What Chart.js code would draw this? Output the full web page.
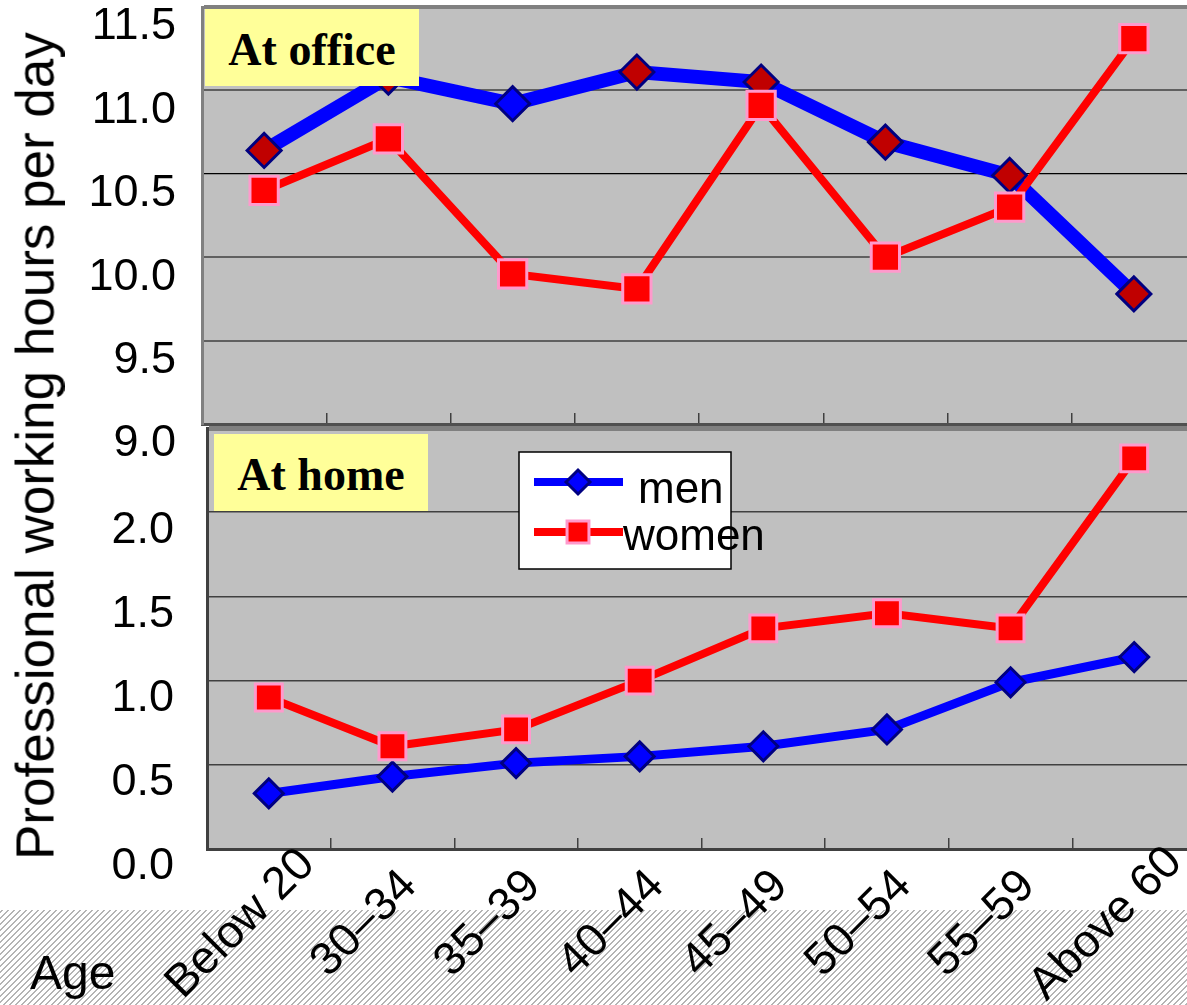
<!DOCTYPE html>
<html>
<head>
<meta charset="utf-8">
<script src="https://cdn.jsdelivr.net/npm/chart.js@4/dist/chart.umd.min.js"></script>
<style>
html,body{margin:0;padding:0;width:1187px;height:1005px;overflow:hidden;background:#fff;}
#wrap{position:relative;width:1187px;height:1005px;overflow:hidden;}
canvas{position:absolute;left:0;}
.panel{position:absolute;font-family:"Liberation Serif","Times New Roman",serif;font-weight:bold;font-size:46px;background:#FFFF99;width:214px;height:77px;line-height:81px;text-align:center;color:#000;white-space:nowrap;overflow:visible;}
#ytitle{position:absolute;left:35px;top:446px;transform:translate(-50%,-50%) rotate(-90deg);font-family:"Liberation Sans",Arial,sans-serif;font-size:53px;line-height:53px;white-space:nowrap;color:#000;}
#age{position:absolute;left:30px;top:949px;font-family:"Liberation Sans",Arial,sans-serif;font-size:48px;line-height:48px;color:#000;}
</style>
</head>
<body>
<div id="wrap">
  <canvas id="home" width="1200" height="585" style="top:420px;width:1200px;height:585px"></canvas>
  <canvas id="office" width="1200" height="470" style="top:0;width:1200px;height:470px"></canvas>
  <div class="panel" style="left:205px;top:9px">At office</div>
  <div class="panel" style="left:214px;top:434px">At home</div>
  <div id="ytitle">Professional working hours per day</div>
  <div id="age">Age</div>
</div>
<script>
// ---- data ----
const ageGroups   = ['Below 20', '30–34', '35–39', '40–44', '45–49', '50–54', '55–59', 'Above 60'];
const seriesNames = ['men', 'women'];
const officeMen   = [10.64, 11.08, 10.92, 11.11, 11.05, 10.69, 10.49, 9.78];
const officeWomen = [10.40, 10.71, 9.90, 9.81, 10.91, 10.00, 10.30, 11.31];
const homeMen     = [0.33, 0.43, 0.51, 0.55, 0.61, 0.71, 0.99, 1.14];
const homeWomen   = [0.90, 0.61, 0.71, 1.00, 1.31, 1.40, 1.31, 2.32];
const officeAxis  = {min: 9.0, max: 11.5, step: 0.5};
const homeAxis    = {min: 0.0, max: 2.5, step: 0.5};
const homeHiddenTick = 2.5;

const SANS = '"Liberation Sans", Arial, sans-serif';

function noPad(s) { s.paddingTop = 0; s.paddingBottom = 0; s.paddingLeft = 0; s.paddingRight = 0; }

const plotBg = {
  id: 'plotBg',
  beforeDraw(chart) {
    const a = chart.chartArea, ctx = chart.ctx;
    ctx.save();
    ctx.fillStyle = '#C0C0C0';
    ctx.fillRect(a.left, a.top, a.right - a.left, a.bottom - a.top);
    ctx.restore();
  }
};

const hatch = {
  id: 'hatch',
  beforeDraw(chart) {
    const ctx = chart.ctx;
    const p = document.createElement('canvas');
    p.width = 6; p.height = 6;
    const pc = p.getContext('2d');
    pc.fillStyle = '#ffffff'; pc.fillRect(0, 0, 6, 6);
    pc.fillStyle = '#b4b4b4';
    for (let i = 0; i < 6; i++) { pc.fillRect((5 - i + 6) % 6, i, 2, 1); if ((5 - i) === 5) pc.fillRect(0, i, 1, 1); }
    ctx.save();
    ctx.fillStyle = ctx.createPattern(p, 'repeat');
    ctx.fillRect(0, 490, chart.width, chart.height - 490);
    ctx.restore();
  }
};

const xLabels = {
  id: 'xLabels',
  afterDraw(chart) {
    const ctx = chart.ctx, xs = chart.scales.x;
    ctx.save();
    ctx.font = '46px ' + SANS;
    ctx.fillStyle = '#000';
    ctx.textAlign = 'center';
    ctx.textBaseline = 'middle';
    chart.data.labels.forEach((lab, i) => {
      const x = xs.getPixelForValue(i) - 28;
      ctx.save();
      ctx.translate(x, 504);
      ctx.rotate(-Math.PI / 4);
      ctx.fillText(lab, 0, 0);
      ctx.restore();
    });
    ctx.restore();
  }
};

const boxLegend = {
  id: 'boxLegend',
  afterDraw(chart) {
    const ctx = chart.ctx;
    ctx.save();
    ctx.fillStyle = '#fff';
    ctx.strokeStyle = '#000';
    ctx.lineWidth = 1.5;
    ctx.fillRect(519, 32, 212, 117);
    ctx.strokeRect(519, 32, 212, 117);
    const rows = [{y: 62, tx: 638, ty: 83, r: 12}, {y: 112, tx: 623, ty: 130, r: 15.5}];
    chart.data.datasets.forEach((ds, i) => {
      const row = rows[i];
      ctx.strokeStyle = ds.borderColor;
      ctx.lineWidth = 8;
      ctx.beginPath(); ctx.moveTo(534, row.y); ctx.lineTo(623, row.y); ctx.stroke();
      ctx.fillStyle = Array.isArray(ds.pointBackgroundColor) ? ds.pointBackgroundColor[0] : ds.pointBackgroundColor;
      ctx.strokeStyle = ds.pointBorderColor;
      ctx.lineWidth = ds.pointBorderWidth;
      Chart.helpers.drawPoint(ctx, {pointStyle: ds.pointStyle, radius: row.r, rotation: 0, borderWidth: ds.pointBorderWidth}, 578, row.y);
      ctx.fillStyle = '#000';
      ctx.font = '44px ' + SANS;
      ctx.textAlign = 'left';
      ctx.textBaseline = 'alphabetic';
      ctx.fillText(ds.label, row.tx, row.ty);
    });
    ctx.restore();
  }
};

function fmt(v) { return Number(v).toFixed(1); }

// ---- office chart ----
new Chart(document.getElementById('office'), {
  type: 'line',
  data: {
    labels: ageGroups,
    datasets: [
      {
        label: seriesNames[0], data: officeMen, order: 1,
        borderColor: '#0000FF', borderWidth: 14, tension: 0,
        pointStyle: 'rectRot', pointRadius: 17,
        pointBackgroundColor: ['#C00000', '#C00000', '#0000FF', '#C00000', '#C00000', '#C00000', '#C00000', '#C00000'],
        pointBorderColor: '#000080', pointBorderWidth: 3
      },
      {
        label: seriesNames[1], data: officeWomen, order: 0,
        borderColor: '#FF0000', borderWidth: 8, tension: 0,
        pointStyle: 'rect', pointRadius: 20,
        pointBackgroundColor: '#FF0000', pointBorderColor: '#FF99CC', pointBorderWidth: 3
      }
    ]
  },
  options: {
    responsive: false, animation: false, devicePixelRatio: 1,
    layout: {autoPadding: false, padding: {top: 7, right: 4, left: 0, bottom: 0}},
    plugins: {legend: {display: false}, tooltip: {enabled: false}},
    scales: {
      x: {
        type: 'category', offset: true,
        grid: {offset: true, drawOnChartArea: false, drawTicks: true, tickLength: -11, color: '#404040', lineWidth: 1.5},
        border: {display: true, color: '#505050', width: 3},
        ticks: {display: false},
        afterFit(s) { s.height = 46; noPad(s); }
      },
      y: {
        min: officeAxis.min, max: officeAxis.max,
        ticks: {stepSize: officeAxis.step, callback: fmt, color: '#000', font: {family: SANS, size: 45}, padding: 26, labelOffset: 20},
        grid: {
          drawTicks: false,
          color: c => (c.tick && c.tick.value === officeAxis.max) ? '#808080' : ((c.tick && c.tick.value === 10.5) ? '#000000' : '#606060'),
          lineWidth: c => (c.tick && c.tick.value === officeAxis.max) ? 4 : ((c.tick && c.tick.value === 10.5) ? 1.2 : 2)
        },
        border: {display: true, color: '#808080', width: 3},
        afterFit(s) { s.width = 202; noPad(s); }
      }
    }
  },
  plugins: [plotBg]
});

// ---- home chart ----
new Chart(document.getElementById('home'), {
  type: 'line',
  data: {
    labels: ageGroups,
    datasets: [
      {
        label: seriesNames[0], data: homeMen, order: 1,
        borderColor: '#0000FF', borderWidth: 9, tension: 0,
        pointStyle: 'rectRot', pointRadius: 14.5,
        pointBackgroundColor: '#0000FF', pointBorderColor: '#000080', pointBorderWidth: 3
      },
      {
        label: seriesNames[1], data: homeWomen, order: 0,
        borderColor: '#FF0000', borderWidth: 8, tension: 0,
        pointStyle: 'rect', pointRadius: 19,
        pointBackgroundColor: '#FF0000', pointBorderColor: '#FF99CC', pointBorderWidth: 3
      }
    ]
  },
  options: {
    responsive: false, animation: false, devicePixelRatio: 1,
    layout: {autoPadding: false, padding: {top: 8, right: 4, left: 0, bottom: 0}},
    plugins: {legend: {display: false}, tooltip: {enabled: false}},
    scales: {
      x: {
        type: 'category', offset: true,
        grid: {offset: true, drawOnChartArea: false, drawTicks: true, tickLength: -11, color: '#404040', lineWidth: 1.5},
        border: {display: true, color: '#404040', width: 3},
        ticks: {display: false},
        afterFit(s) { s.height = 156; noPad(s); }
      },
      y: {
        min: homeAxis.min, max: homeAxis.max,
        ticks: {stepSize: homeAxis.step, callback: v => (v === homeHiddenTick ? '' : fmt(v)), color: '#000', font: {family: SANS, size: 45}, padding: 33, labelOffset: 18},
        grid: {
          drawTicks: false,
          color: c => (c.tick && c.tick.value === homeAxis.max) ? '#808080' : '#404040',
          lineWidth: c => (c.tick && c.tick.value === homeAxis.max) ? 5 : 1.5
        },
        border: {display: true, color: '#404040', width: 3},
        afterFit(s) { s.width = 207; noPad(s); }
      }
    }
  },
  plugins: [hatch, plotBg, boxLegend, xLabels]
});
</script>
</body>
</html>
